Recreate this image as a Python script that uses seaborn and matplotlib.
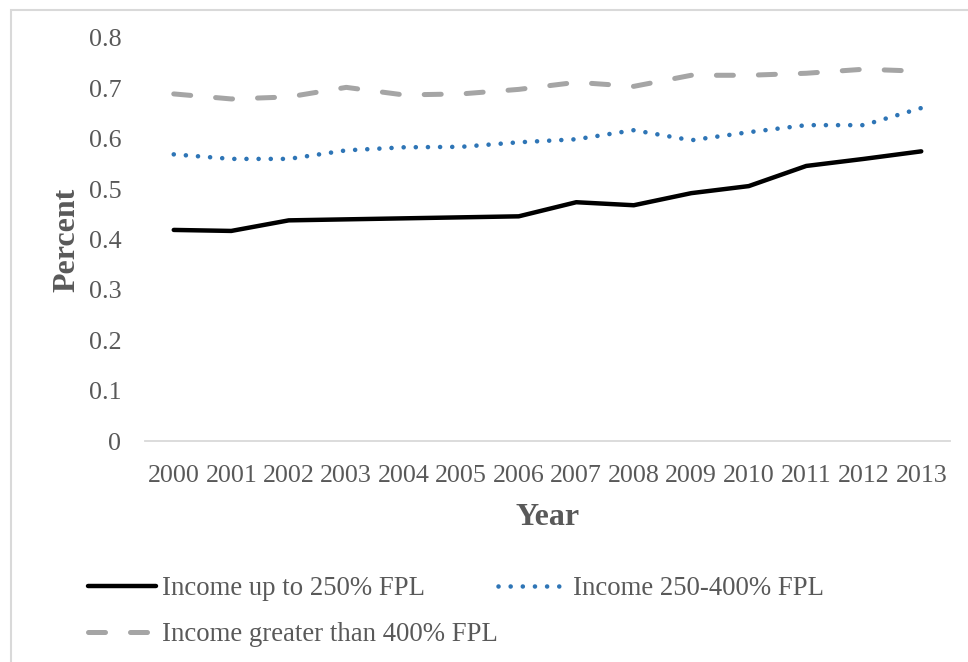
import matplotlib
matplotlib.use("Agg")
import matplotlib.pyplot as plt
from matplotlib.patches import Rectangle
import seaborn as sns
import pandas as pd

years = [2000, 2001, 2002, 2003, 2004, 2005, 2006, 2007, 2008, 2009, 2010, 2011, 2012, 2013]
low_income = [0.419, 0.417, 0.438, 0.440, 0.442, 0.444, 0.446, 0.474, 0.468, 0.492, 0.506, 0.546, 0.560, 0.575]
mid_income = [0.569, 0.560, 0.560, 0.577, 0.583, 0.584, 0.593, 0.599, 0.617, 0.597, 0.613, 0.627, 0.627, 0.661]
high_income = [0.689, 0.679, 0.683, 0.702, 0.687, 0.689, 0.698, 0.712, 0.704, 0.726, 0.726, 0.730, 0.738, 0.734]
series_names = ["Income up to 250% FPL", "Income 250-400% FPL", "Income greater than 400% FPL"]
y_ticks = [0, 0.1, 0.2, 0.3, 0.4, 0.5, 0.6, 0.7, 0.8]

sns.set_theme(style="white")
plt.rcParams["font.family"] = ["Liberation Serif", "DejaVu Serif"]
text_color = "#595959"

df = pd.DataFrame({
    "Year": years * 3,
    "Percent": low_income + mid_income + high_income,
    "Series": [series_names[0]] * len(years) + [series_names[1]] * len(years) + [series_names[2]] * len(years),
})

fig = plt.figure(figsize=(9.68, 6.62), dpi=100)
ax = fig.add_axes([145 / 968, 1 - 441 / 662, (950 - 145) / 968, (441 - 38) / 662])

styles = {
    series_names[0]: dict(color="#000000", lw=3.2, ls="-"),
    series_names[1]: dict(color="#2E75B6", lw=3.3, ls=(0, (0.01, 2.64))),
    series_names[2]: dict(color="#A5A5A5", lw=3.6, ls=(0, (3.4, 5.0))),
}

handles = {}
for name in series_names:
    sub = df[df["Series"] == name]
    st = styles[name]
    sns.lineplot(data=sub, x="Year", y="Percent", ax=ax, color=st["color"],
                 linewidth=st["lw"], linestyle=st["ls"], legend=False)
    line = ax.lines[-1]
    line.set_dash_capstyle("round")
    line.set_solid_capstyle("round")
    line.set_solid_joinstyle("round")
    handles[name] = line

ax.set_xlim(years[0] - 0.5, years[-1] + 0.5)
ax.set_ylim(0, 0.8)
ax.set_xticks(years)
ax.set_xticklabels([str(y) for y in years])
ax.set_yticks(y_ticks)
ax.set_yticklabels(["0" if v == 0 else f"{v:.1f}" for v in y_ticks])
ax.tick_params(axis="both", length=0, labelsize=18.7, colors=text_color)
ax.tick_params(axis="x", pad=17)
ax.tick_params(axis="y", pad=17)

for side in ["top", "right", "left"]:
    ax.spines[side].set_visible(False)
ax.spines["bottom"].set_color("#D9D9D9")
ax.spines["bottom"].set_linewidth(1.3)

ax.set_xlabel("Year", fontsize=23, fontweight="bold", color=text_color, labelpad=12)
ax.set_ylabel("Percent", fontsize=23, fontweight="bold", color=text_color, labelpad=5)

order = [series_names[0], series_names[2], series_names[1]]
leg = fig.legend([handles[n] for n in order], order, loc="upper left",
                 bbox_to_anchor=(64 / 968, 1 - 552 / 662), ncol=2, frameon=False,
                 fontsize=19.3, handlelength=2.55, handletextpad=0.22,
                 columnspacing=0.0, labelspacing=0.78, labelcolor=text_color)
for h in leg.legend_handles:
    h.set_dash_capstyle("round")
    h.set_solid_capstyle("round")

fig.patches.append(Rectangle((11 / 968, -0.1), 1.2, 1.1 - 10 / 662, transform=fig.transFigure,
                             fill=False, edgecolor="#D9D9D9", linewidth=1.5))

fig.savefig("out.png", dpi=100)
